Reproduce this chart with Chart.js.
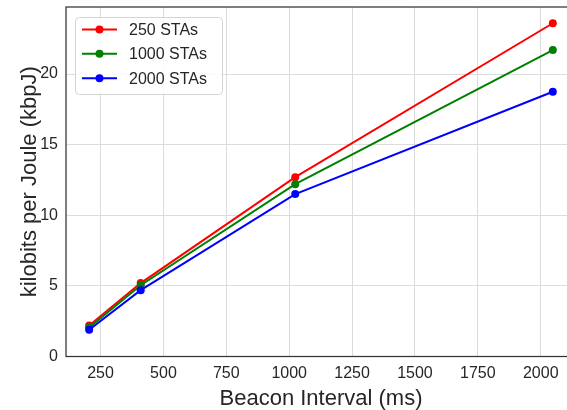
<!DOCTYPE html>
<html>
<head>
<meta charset="utf-8">
<script src="https://cdn.jsdelivr.net/npm/chart.js@4.4.0/dist/chart.umd.min.js"></script>
<style>
  html, body { margin: 0; padding: 0; background: #fff; overflow: hidden; }
  #wrap { width: 580px; height: 410px; position: relative; }
</style>
</head>
<body>
<div id="wrap"><canvas id="myChart"></canvas></div>
<script>
// datos
const beaconInterval = [204.8, 409.6, 1024, 2048];
const sta250 = [2.2, 5.2, 12.7, 23.6];
const sta1000 = [2.05, 5.05, 12.2, 21.7];
const sta2000 = [1.9, 4.7, 11.5, 18.75];
const seriesLabels = ['250 STAs', '1000 STAs', '2000 STAs'];
const seriesColors = ['#ff0000', '#008000', '#0000ff'];
const xTicks = [250, 500, 750, 1000, 1250, 1500, 1750, 2000];
const yTicks = [0, 5, 10, 15, 20];

const FONT = "'Liberation Sans', Arial, sans-serif";
const TEXT = '#262626';

function toPoints(ys) {
  return ys.map((y, i) => ({ x: beaconInterval[i], y: y }));
}

// marco (spines) y leyenda estilo matplotlib
const framePlugin = {
  id: 'frame',
  afterDraw(chart) {
    const c = chart.ctx;
    const a = chart.chartArea;
    c.save();
    c.strokeStyle = '#333333';
    c.lineWidth = 1.25;
    c.strokeRect(a.left, a.top, a.right - a.left, a.bottom - a.top);

    // leyenda
    const bx = 75, by = 17, bw = 147, bh = 77, r = 4;
    c.beginPath();
    c.roundRect(bx + 0.5, by + 0.5, bw, bh, r);
    c.fillStyle = 'rgba(255,255,255,0.85)';
    c.fill();
    c.strokeStyle = '#d4d4d4';
    c.lineWidth = 1;
    c.stroke();

    const rows = [29.5, 53.8, 78.3];
    chart.data.datasets.forEach((ds, i) => {
      const y = rows[i];
      c.strokeStyle = ds.borderColor;
      c.lineWidth = 2;
      c.beginPath();
      c.moveTo(82, y);
      c.lineTo(117, y);
      c.stroke();
      c.fillStyle = ds.borderColor;
      c.beginPath();
      c.arc(99.5, y, 4, 0, Math.PI * 2);
      c.fill();
      c.fillStyle = TEXT;
      c.font = '16px ' + FONT;
      c.textBaseline = 'middle';
      c.textAlign = 'left';
      c.fillText(ds.label, 129, y + 1);
    });
    c.restore();
  }
};

const ctx = document.getElementById('myChart').getContext('2d');
const datasets = [sta250, sta1000, sta2000].map((ys, i) => ({
  label: seriesLabels[i],
  data: toPoints(ys),
  borderColor: seriesColors[i],
  backgroundColor: seriesColors[i],
  borderWidth: 2,
  pointRadius: 4,
  pointBorderWidth: 0,
  pointHoverRadius: 4,
  tension: 0,
  order: 3 - i, // el azul queda encima
}));

const myChart = new Chart(ctx, {
  type: 'line',
  data: { datasets: datasets },
  options: {
    responsive: true,
    maintainAspectRatio: false,
    animation: false,
    layout: { padding: { top: 7, right: 3, left: 0, bottom: 0 } },
    plugins: {
      legend: { display: false },
      tooltip: { enabled: false },
    },
    scales: {
      x: {
        type: 'linear',
        min: 112.64,
        max: 2140.16,
        afterFit: (s) => {
          s.height = 53.5;
          s.paddingLeft = 0;
          s.paddingRight = 0;
        },
        afterBuildTicks: (s) => { s.ticks = xTicks.map((v) => ({ value: v })); },
        grid: { color: '#dcdcdc', lineWidth: 1, drawTicks: false },
        border: { display: false },
        ticks: {
          autoSkip: false,
          maxRotation: 0,
          padding: 7,
          color: TEXT,
          font: { family: FONT, size: 16 },
          callback: (v) => String(v),
        },
        title: {
          display: true,
          text: 'Beacon Interval (ms)',
          color: TEXT,
          font: { family: FONT, size: 22, lineHeight: 1 },
          padding: { top: 5, bottom: 0 },
        },
      },
      y: {
        type: 'linear',
        min: 0,
        max: 24.75,
        afterFit: (s) => {
          s.width = 66;
          s.paddingTop = 0;
          s.paddingBottom = 0;
        },
        afterBuildTicks: (s) => { s.ticks = yTicks.map((v) => ({ value: v })); },
        grid: { color: '#dcdcdc', lineWidth: 1, drawTicks: false },
        border: { display: false },
        ticks: {
          padding: 8,
          color: TEXT,
          font: { family: FONT, size: 16 },
          callback: (v) => String(v),
        },
        title: {
          display: true,
          text: 'kilobits per Joule (kbpJ)',
          color: TEXT,
          font: { family: FONT, size: 22, lineHeight: 1 },
          padding: { top: 19, bottom: 0 },
        },
      },
    },
  },
  plugins: [framePlugin],
});
</script>
</body>
</html>
